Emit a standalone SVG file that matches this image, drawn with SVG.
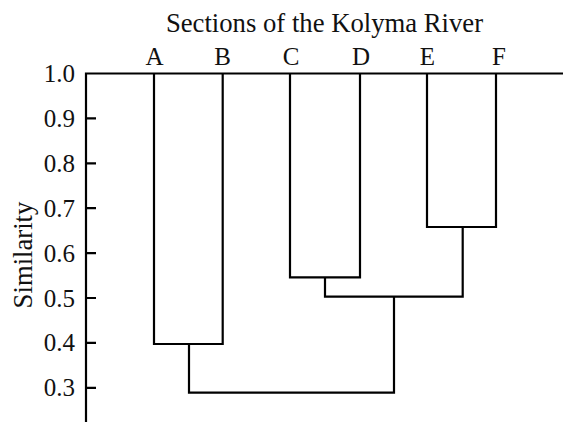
<svg xmlns="http://www.w3.org/2000/svg" width="563" height="422" viewBox="0 0 563 422">
  <style>
    .ln { fill: none; stroke: #000; stroke-width: 2.2; stroke-linecap: butt; stroke-linejoin: miter; }
    .tick { font-family: "Liberation Serif", "Times New Roman", serif; font-size: 25px; fill: #111; text-anchor: end; }
    .leaf { font-family: "Liberation Serif", "Times New Roman", serif; font-size: 25px; fill: #111; text-anchor: middle; }
    .title { font-family: "Liberation Serif", "Times New Roman", serif; font-size: 26.7px; fill: #111; text-anchor: middle; }
  </style>
  <rect width="563" height="422" fill="#fff"/>

  <!-- title and y-axis label -->
  <text class="title" x="324.5" y="32">Sections of the Kolyma River</text>
  <text class="title" transform="translate(32,255) rotate(-90)">Similarity</text>

  <!-- axes: similarity scale on the left, 1.0 baseline across the top -->
  <g id="axis">
    <path class="ln" d="M86,422 V73.5 H563"/>
    <path class="ln" d="M86,118.4 H96 M86,163.3 H96 M86,208.2 H96 M86,253.1 H96 M86,298 H96 M86,342.9 H96 M86,387.8 H96"/>
    <text class="tick" x="75" y="82">1.0</text>
    <text class="tick" x="75" y="126.9">0.9</text>
    <text class="tick" x="75" y="171.8">0.8</text>
    <text class="tick" x="75" y="216.7">0.7</text>
    <text class="tick" x="75" y="261.6">0.6</text>
    <text class="tick" x="75" y="306.5">0.5</text>
    <text class="tick" x="75" y="351.4">0.4</text>
    <text class="tick" x="75" y="396.3">0.3</text>
  </g>

  <!-- river sections (leaves) -->
  <g id="node-A"><text class="leaf" x="154.5" y="65">A</text></g>
  <g id="node-B"><text class="leaf" x="222.5" y="65">B</text></g>
  <g id="node-C"><text class="leaf" x="291" y="65">C</text></g>
  <g id="node-D"><text class="leaf" x="361" y="65">D</text></g>
  <g id="node-E"><text class="leaf" x="427.5" y="65">E</text></g>
  <g id="node-F"><text class="leaf" x="499" y="65">F</text></g>

  <!-- dendrogram branches -->
  <g id="connectors">
    <path class="ln" d="M154,73.5 V344 H222.7 V73.5"/>
    <path class="ln" d="M290,73.5 V277.3 H360 V73.5"/>
    <path class="ln" d="M427,73.5 V227 H496 V73.5"/>
    <path class="ln" d="M325,277.3 V296.7 H462.7 V227"/>
    <path class="ln" d="M189,344 V392.7 H394 V296.7"/>
  </g>
</svg>
